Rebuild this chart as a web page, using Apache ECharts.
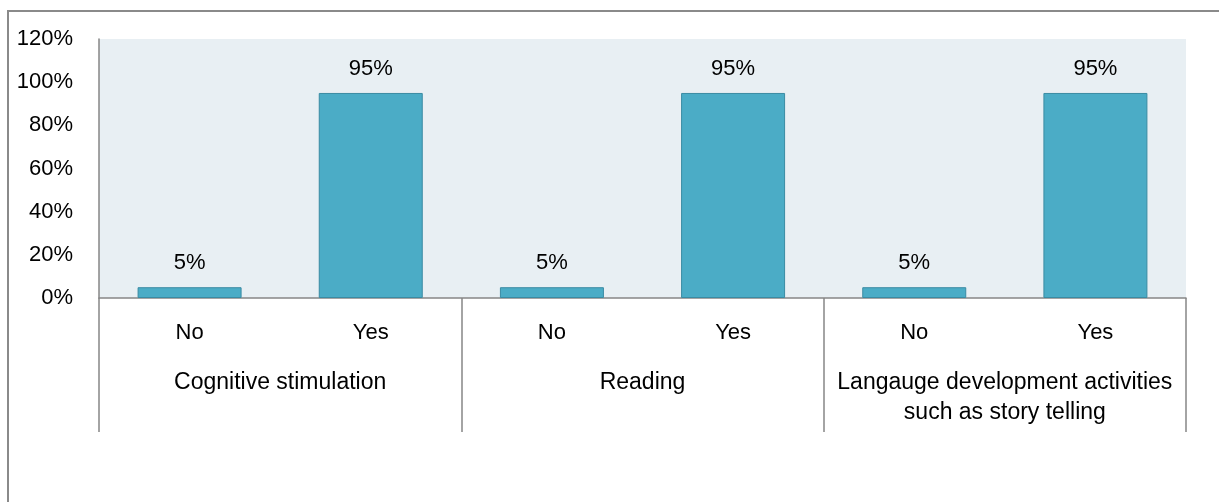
<!DOCTYPE html>
<html>
<head>
<meta charset="utf-8">
<script src="https://cdn.jsdelivr.net/npm/echarts@6/dist/echarts.min.js"></script>
<style>
html,body{margin:0;padding:0;background:#fff;}
#c{width:1219px;height:502px;}
</style>
</head>
<body>
<div id="c"></div>
<script>
const answers = ['No', 'Yes', 'No', 'Yes', 'No', 'Yes'];
const groups = ['Cognitive stimulation', 'Reading', 'Langauge development activities\nsuch as story telling'];
const values = [5, 95, 5, 95, 5, 95];
const yTicks = { min: 0, max: 120, interval: 20 };

const FONT = 'Liberation Sans';
const chart = echarts.init(document.getElementById('c'), null, { renderer: 'canvas' });
chart.setOption({
  animation: false,
  textStyle: { fontFamily: FONT },
  graphic: [{
    type: 'rect',
    shape: { x: 8, y: 11, width: 1300, height: 600 },
    style: { fill: 'none', stroke: '#8a8a8a', lineWidth: 2 },
    silent: true
  }],
  grid: {
    left: 99, right: 33, top: 39, bottom: 204,
    show: true, backgroundColor: '#E8EFF3', borderWidth: 0
  },
  xAxis: [{
    type: 'category',
    data: answers,
    position: 'bottom',
    axisLine: { show: true, lineStyle: { color: '#868686', width: 1.5 } },
    axisTick: { show: false },
    axisLabel: { color: '#000', fontSize: 22, fontFamily: FONT, margin: 22, lineHeight: 26, interval: 0 },
    splitLine: { show: false }
  }, {
    type: 'category',
    data: groups,
    position: 'bottom',
    offset: 0,
    axisLine: { show: false },
    axisTick: { show: true, length: 134, lineStyle: { color: '#868686', width: 1.5 } },
    axisLabel: { color: '#000', fontSize: 23, fontFamily: FONT, margin: 70, lineHeight: 30, interval: 0 },
    splitLine: { show: false }
  }],
  yAxis: {
    type: 'value',
    min: yTicks.min, max: yTicks.max, interval: yTicks.interval,
    axisLine: { show: true, lineStyle: { color: '#868686', width: 1.5 } },
    axisTick: { show: false },
    splitLine: { show: false },
    axisLabel: { color: '#000', fontSize: 22, fontFamily: FONT, margin: 26, formatter: '{value}%' }
  },
  series: [{
    type: 'bar',
    xAxisIndex: 0,
    data: values,
    barWidth: 104,
    itemStyle: { color: '#4BACC6', borderColor: '#3A8BA3', borderWidth: 1 },
    label: { show: true, position: 'top', distance: 13, formatter: '{c}%', color: '#000', fontSize: 22, fontFamily: FONT }
  }]
});
</script>
</body>
</html>
